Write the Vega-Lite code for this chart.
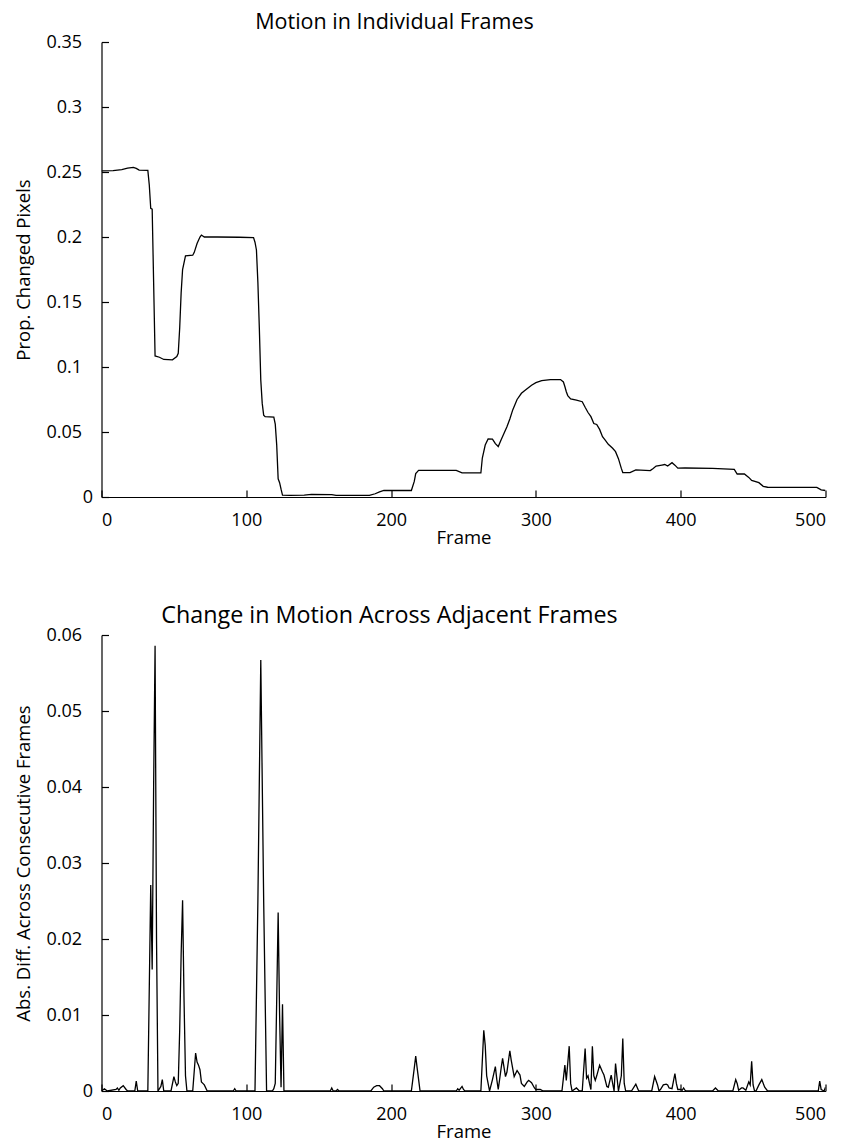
{
  "$schema": "https://vega.github.io/schema/vega-lite/v6.json",
  "background": "white",
  "padding": {"left": 14.5, "top": 11, "right": 10, "bottom": 2},
  "spacing": 56,
  "config": {
    "view": {"stroke": null},
    "font": "Open Sans",
    "title": {"font": "Open Sans", "fontWeight": "normal", "color": "black"},
    "axis": {
      "domainColor": "black", "domainWidth": 1.2, "tickColor": "black", "tickWidth": 1.2,
      "tickSize": -7, "grid": false,
      "labelFont": "Open Sans", "labelFontSize": 18, "labelColor": "black",
      "titleFont": "Open Sans", "titleFontSize": 18.5, "titleFontWeight": "normal", "titleColor": "black"
    },
    "axisX": {"labelPadding": 21, "titlePadding": -1},
    "axisY": {"titlePadding": 12}
  },
  "datasets": {
    "motion": [
      {"frame":0,"value":0.2508},{"frame":8,"value":0.251},{"frame":14,"value":0.2518},{"frame":18,"value":0.253},{"frame":22,"value":0.2536},{"frame":24,"value":0.2528},{"frame":26,"value":0.2515},{"frame":32,"value":0.2512},{"frame":33,"value":0.24},{"frame":34,"value":0.222},{"frame":35,"value":0.2215},{"frame":37,"value":0.1085},{"frame":40,"value":0.1075},{"frame":43,"value":0.1058},{"frame":49,"value":0.1055},{"frame":52,"value":0.108},{"frame":53,"value":0.1105},{"frame":54,"value":0.13},{"frame":55,"value":0.157},{"frame":56,"value":0.175},{"frame":58,"value":0.1855},{"frame":63,"value":0.186},{"frame":64,"value":0.188},{"frame":66,"value":0.195},{"frame":68,"value":0.2},{"frame":69,"value":0.2015},{"frame":71,"value":0.2},{"frame":80,"value":0.2},{"frame":95,"value":0.1998},{"frame":105,"value":0.1995},{"frame":106,"value":0.196},{"frame":107,"value":0.19},{"frame":108,"value":0.165},{"frame":109,"value":0.13},{"frame":110,"value":0.09},{"frame":111,"value":0.072},{"frame":112,"value":0.063},{"frame":113,"value":0.0618},{"frame":119,"value":0.0615},{"frame":120,"value":0.056},{"frame":121,"value":0.04},{"frame":122,"value":0.014},{"frame":123,"value":0.011},{"frame":124,"value":0.006},{"frame":125,"value":0.0015},{"frame":130,"value":0.0013},{"frame":140,"value":0.0015},{"frame":145,"value":0.002},{"frame":159,"value":0.0018},{"frame":162,"value":0.0012},{"frame":185,"value":0.0012},{"frame":189,"value":0.0025},{"frame":192,"value":0.004},{"frame":195,"value":0.005},{"frame":214,"value":0.005},{"frame":216,"value":0.012},{"frame":217,"value":0.018},{"frame":219,"value":0.0205},{"frame":245,"value":0.0205},{"frame":249,"value":0.0185},{"frame":262,"value":0.0185},{"frame":263,"value":0.03},{"frame":265,"value":0.04},{"frame":267,"value":0.0446},{"frame":270,"value":0.0445},{"frame":272,"value":0.041},{"frame":274,"value":0.0388},{"frame":276,"value":0.044},{"frame":278,"value":0.049},{"frame":280,"value":0.054},{"frame":282,"value":0.06},{"frame":284,"value":0.067},{"frame":287,"value":0.075},{"frame":290,"value":0.0798},{"frame":293,"value":0.0825},{"frame":297,"value":0.086},{"frame":300,"value":0.088},{"frame":304,"value":0.0895},{"frame":310,"value":0.0903},{"frame":317,"value":0.0903},{"frame":319,"value":0.0885},{"frame":320,"value":0.085},{"frame":321,"value":0.081},{"frame":322,"value":0.078},{"frame":324,"value":0.0755},{"frame":328,"value":0.0745},{"frame":332,"value":0.0733},{"frame":334,"value":0.069},{"frame":336,"value":0.065},{"frame":338,"value":0.0618},{"frame":340,"value":0.0565},{"frame":342,"value":0.0558},{"frame":344,"value":0.052},{"frame":346,"value":0.0464},{"frame":348,"value":0.0435},{"frame":350,"value":0.0405},{"frame":353,"value":0.0375},{"frame":355,"value":0.0349},{"frame":357,"value":0.0295},{"frame":359,"value":0.022},{"frame":360,"value":0.0188},{"frame":365,"value":0.0188},{"frame":369,"value":0.0208},{"frame":379,"value":0.0203},{"frame":381,"value":0.022},{"frame":383,"value":0.0238},{"frame":387,"value":0.0246},{"frame":389,"value":0.025},{"frame":391,"value":0.0238},{"frame":394,"value":0.0264},{"frame":396,"value":0.0245},{"frame":398,"value":0.0222},{"frame":403,"value":0.0223},{"frame":422,"value":0.022},{"frame":437,"value":0.0213},{"frame":439,"value":0.0177},{"frame":444,"value":0.0177},{"frame":447,"value":0.0151},{"frame":449,"value":0.0128},{"frame":454,"value":0.011},{"frame":457,"value":0.0082},{"frame":460,"value":0.0075},{"frame":494,"value":0.0074},{"frame":497,"value":0.0055},{"frame":500,"value":0.005}
    ],
    "diff": [
      {"frame":0,"value":0},{"frame":2,"value":0.0003},{"frame":4,"value":0},{"frame":10,"value":0.0002},{"frame":11,"value":0.0004},{"frame":12,"value":0.0001},{"frame":13,"value":0.0004},{"frame":15,"value":0.0007},{"frame":17,"value":0.0002},{"frame":18,"value":0},{"frame":23,"value":0},{"frame":24,"value":0.0013},{"frame":25,"value":0},{"frame":32,"value":0},{"frame":34,"value":0.0271},{"frame":35,"value":0.016},{"frame":36,"value":0.04},{"frame":37,"value":0.0586},{"frame":38,"value":0.02},{"frame":39,"value":0},{"frame":41,"value":0.0006},{"frame":42,"value":0.0015},{"frame":43,"value":0},{"frame":48,"value":0},{"frame":50,"value":0.0019},{"frame":51,"value":0.0012},{"frame":52,"value":0.0007},{"frame":53,"value":0.001},{"frame":54,"value":0.008},{"frame":55,"value":0.018},{"frame":56,"value":0.0251},{"frame":57,"value":0.012},{"frame":58,"value":0.002},{"frame":59,"value":0},{"frame":63,"value":0},{"frame":65,"value":0.005},{"frame":66,"value":0.0038},{"frame":67,"value":0.0034},{"frame":68,"value":0.0028},{"frame":69,"value":0.0012},{"frame":70,"value":0.001},{"frame":71,"value":0.0008},{"frame":73,"value":0},{"frame":91,"value":0},{"frame":92,"value":0.0003},{"frame":93,"value":0},{"frame":106,"value":0},{"frame":108,"value":0.025},{"frame":110,"value":0.0567},{"frame":112,"value":0.025},{"frame":114,"value":0},{"frame":118,"value":0},{"frame":119,"value":0.0003},{"frame":120,"value":0.001},{"frame":121,"value":0.012},{"frame":122,"value":0.0235},{"frame":123,"value":0.01},{"frame":124,"value":0.0005},{"frame":125,"value":0.0114},{"frame":126,"value":0},{"frame":158,"value":0},{"frame":159,"value":0.0004},{"frame":160,"value":0},{"frame":162,"value":0},{"frame":163,"value":0.0002},{"frame":164,"value":0},{"frame":186,"value":0},{"frame":188,"value":0.0005},{"frame":190,"value":0.0007},{"frame":192,"value":0.0007},{"frame":194,"value":0.0003},{"frame":195,"value":0},{"frame":214,"value":0},{"frame":216,"value":0.003},{"frame":217,"value":0.0046},{"frame":218,"value":0.003},{"frame":220,"value":0},{"frame":245,"value":0},{"frame":246,"value":0.0003},{"frame":247,"value":0.0001},{"frame":249,"value":0.0006},{"frame":250,"value":0.0002},{"frame":251,"value":0},{"frame":262,"value":0},{"frame":263,"value":0.004},{"frame":264,"value":0.008},{"frame":265,"value":0.006},{"frame":266,"value":0.002},{"frame":268,"value":0},{"frame":270,"value":0.0015},{"frame":272,"value":0.0032},{"frame":273,"value":0.0015},{"frame":274,"value":0.0002},{"frame":276,"value":0.003},{"frame":277,"value":0.0043},{"frame":279,"value":0.0019},{"frame":280,"value":0.0025},{"frame":282,"value":0.0053},{"frame":283,"value":0.004},{"frame":285,"value":0.0019},{"frame":287,"value":0.0027},{"frame":289,"value":0.0021},{"frame":290,"value":0.001},{"frame":292,"value":0.0006},{"frame":294,"value":0.0012},{"frame":295,"value":0.0014},{"frame":297,"value":0.0011},{"frame":299,"value":0.0004},{"frame":300,"value":0.0002},{"frame":303,"value":0.0002},{"frame":305,"value":0},{"frame":318,"value":0},{"frame":320,"value":0.0034},{"frame":321,"value":0.0014},{"frame":323,"value":0.0059},{"frame":324,"value":0.001},{"frame":325,"value":0},{"frame":328,"value":0.0004},{"frame":330,"value":0},{"frame":332,"value":0},{"frame":334,"value":0.0056},{"frame":335,"value":0.0017},{"frame":336,"value":0.002},{"frame":337,"value":0.001},{"frame":338,"value":0.0002},{"frame":339,"value":0.0059},{"frame":340,"value":0.002},{"frame":341,"value":0.0014},{"frame":342,"value":0.002},{"frame":344,"value":0.0034},{"frame":346,"value":0.0025},{"frame":347,"value":0.0021},{"frame":349,"value":0.0006},{"frame":350,"value":0.0005},{"frame":352,"value":0.0021},{"frame":353,"value":0.001},{"frame":354,"value":0},{"frame":355,"value":0.0036},{"frame":357,"value":0},{"frame":359,"value":0.002},{"frame":360,"value":0.0069},{"frame":361,"value":0.001},{"frame":362,"value":0},{"frame":366,"value":0},{"frame":369,"value":0.0009},{"frame":371,"value":0},{"frame":380,"value":0},{"frame":382,"value":0.0019},{"frame":384,"value":0.0008},{"frame":385,"value":0},{"frame":386,"value":0.0002},{"frame":388,"value":0.0008},{"frame":390,"value":0.0009},{"frame":391,"value":0.0008},{"frame":392,"value":0.0004},{"frame":394,"value":0.0003},{"frame":396,"value":0.0023},{"frame":397,"value":0.001},{"frame":398,"value":0.0002},{"frame":400,"value":0.0002},{"frame":401,"value":0.0001},{"frame":402,"value":0.0004},{"frame":403,"value":0.0001},{"frame":404,"value":0},{"frame":422,"value":0},{"frame":424,"value":0.0004},{"frame":426,"value":0},{"frame":436,"value":0},{"frame":438,"value":0.0015},{"frame":439,"value":0.001},{"frame":440,"value":0.0001},{"frame":442,"value":0.0004},{"frame":443,"value":0.0004},{"frame":445,"value":0.0001},{"frame":447,"value":0.0012},{"frame":448,"value":0.0008},{"frame":449,"value":0.0039},{"frame":450,"value":0.0008},{"frame":451,"value":0},{"frame":452,"value":0},{"frame":454,"value":0.0008},{"frame":456,"value":0.0015},{"frame":458,"value":0.0005},{"frame":460,"value":0},{"frame":495,"value":0},{"frame":496,"value":0.0013},{"frame":497,"value":0.0002},{"frame":498,"value":0.0001},{"frame":499,"value":0},{"frame":500,"value":0.0005}
    ]
  },
  "vconcat": [
    {
      "title": {"text": "Motion in Individual Frames", "fontSize": 21.5, "offset": 0, "dx": -69},
      "width": 724, "height": 455,
      "data": {"name": "motion"},
      "mark": {"type": "line", "color": "black", "strokeWidth": 1.3, "clip": true},
      "encoding": {
        "x": {"field": "frame", "type": "quantitative", "title": "Frame",
              "scale": {"domain": [0, 500], "nice": false},
              "axis": {"values": [0, 100, 200, 300, 400, 500]}},
        "y": {"field": "value", "type": "quantitative", "title": "Prop. Changed Pixels",
              "scale": {"domain": [0, 0.35], "nice": false},
              "axis": {"values": [0, 0.05, 0.1, 0.15, 0.2, 0.25, 0.3, 0.35], "format": "~g",
                       "labelPadding": {"condition": {"test": "datum.value === 0", "value": 16}, "value": 27}}}
      }
    },
    {
      "title": {"text": "Change in Motion Across Adjacent Frames", "fontSize": 23.3, "offset": -2, "dx": -74},
      "width": 724, "height": 456,
      "data": {"name": "diff"},
      "mark": {"type": "line", "color": "black", "strokeWidth": 1.3, "clip": true},
      "encoding": {
        "x": {"field": "frame", "type": "quantitative", "title": "Frame",
              "scale": {"domain": [0, 500], "nice": false},
              "axis": {"values": [0, 100, 200, 300, 400, 500]}},
        "y": {"field": "value", "type": "quantitative", "title": "Abs. Diff. Across Consecutive Frames",
              "scale": {"domain": [0, 0.06], "nice": false},
              "axis": {"values": [0, 0.01, 0.02, 0.03, 0.04, 0.05, 0.06], "format": "~g",
                       "labelPadding": {"condition": {"test": "datum.value === 0", "value": 16}, "value": 27}}}
      }
    }
  ]
}
